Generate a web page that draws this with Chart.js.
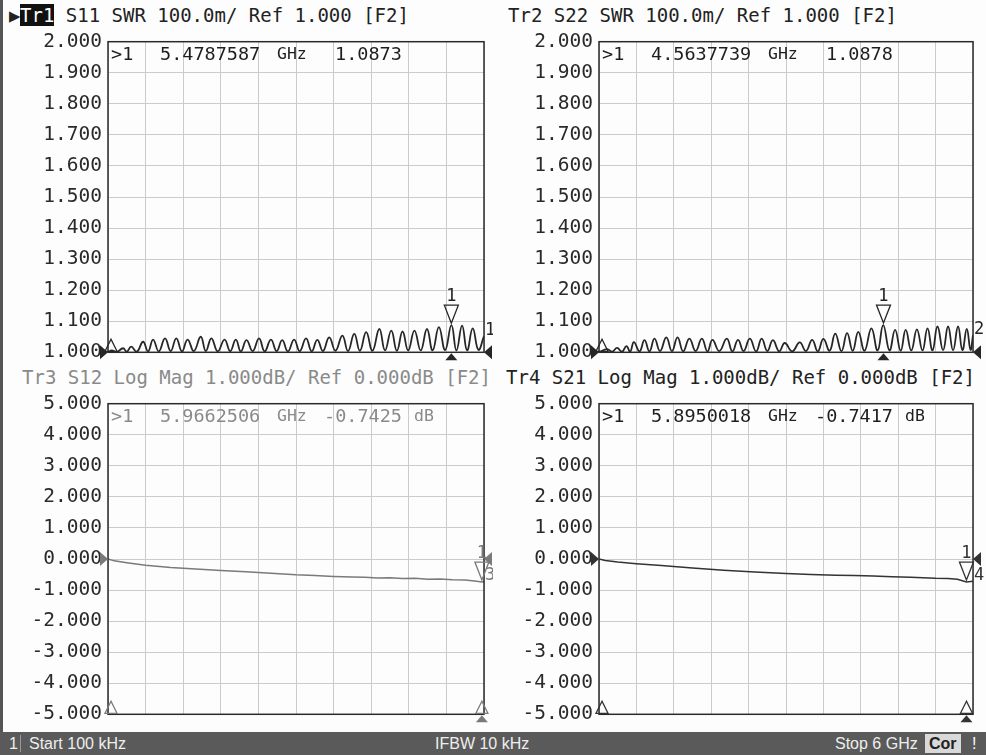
<!DOCTYPE html>
<html>
<head>
<meta charset="utf-8">
<script src="https://cdn.jsdelivr.net/npm/chart.js@4.4.0/dist/chart.umd.min.js"></script>
<style>
body { margin: 0; width: 986px; height: 755px; overflow: hidden; position: relative; background: #fdfdfd; font-family: 'DejaVu Sans Mono', monospace; }
.edge { position: absolute; left: 0; top: 0; width: 3px; height: 755px; background: #555; }
.title { position: absolute; font-size: 19px; line-height: 22px; white-space: pre; color: #222; }
.inv { background: #111; color: #fff; }
canvas { position: absolute; }
#status { position: absolute; left: 0; top: 732px; width: 986px; height: 23px; background: #5a5a5a; color: #eee; font-family: 'Liberation Sans', sans-serif; font-size: 16px; line-height: 23px; }
#status span { position: absolute; top: 0; }
</style>
</head>
<body>
<div class="edge"></div>
<div class="title" style="left:9px;top:4px;">&#9654;</div>
<div class="title" style="left:20px;top:4px;"><span class="inv">Tr1</span> S11 SWR 100.0m/ Ref 1.000 [F2]</div>
<div class="title" style="left:508px;top:4px;">Tr2 S22 SWR 100.0m/ Ref 1.000 [F2]</div>
<div class="title" style="left:22px;top:366px;color:#8a8a8a;">Tr3 S12 Log Mag 1.000dB/ Ref 0.000dB [F2]</div>
<div class="title" style="left:506px;top:366px;">Tr4 S21 Log Mag 1.000dB/ Ref 0.000dB [F2]</div>

<canvas id="tr1" width="493" height="346" style="left:0;top:24px;"></canvas>
<canvas id="tr2" width="493" height="346" style="left:493px;top:24px;"></canvas>
<canvas id="tr3" width="493" height="346" style="left:0;top:386px;"></canvas>
<canvas id="tr4" width="493" height="346" style="left:493px;top:386px;"></canvas>

<div id="status">
  <span style="left:9px;">1</span>
  <span style="left:20px;top:3px;width:1px;height:17px;background:#999;"></span>
  <span style="left:29px;">Start 100 kHz</span>
  <span style="left:435px;">IFBW 10 kHz</span>
  <span style="left:835px;">Stop 6 GHz</span>
  <span style="left:925px;top:2px;height:19px;line-height:19px;padding:0 4px;background:#d9d9d9;color:#222;font-weight:bold;">Cor</span>
  <span style="left:972px;color:#fff;">!</span>
</div>

<script>
// sweep, GHz
const freqMin = 0;
const freqMax = 6;

// S11 SWR, peaks and dips
const s11Freq = [0.0001, 0.06, 0.14, 0.24, 0.30, 0.37, 0.46, 0.56, 0.64, 0.72, 0.81, 0.91, 1.00, 1.09, 1.18, 1.27, 1.37, 1.48, 1.56, 1.65, 1.75, 1.86, 1.95, 2.04, 2.12, 2.21, 2.31, 2.41, 2.50, 2.60, 2.69, 2.78, 2.87, 2.97, 3.06, 3.16, 3.25, 3.34, 3.43, 3.53, 3.63, 3.74, 3.83, 3.93, 4.02, 4.12, 4.22, 4.33, 4.42, 4.52, 4.61, 4.70, 4.79, 4.89, 4.99, 5.09, 5.18, 5.28, 5.38, 5.48, 5.56, 5.65, 5.73, 5.82, 5.91, 6.0];
const s11Swr = [1.000, 1.006, 1.001, 1.013, 1.002, 1.018, 1.002, 1.034, 1.003, 1.041, 1.003, 1.045, 1.004, 1.045, 1.003, 1.041, 1.004, 1.050, 1.004, 1.045, 1.003, 1.041, 1.004, 1.041, 1.003, 1.039, 1.004, 1.045, 1.003, 1.041, 1.004, 1.039, 1.003, 1.041, 1.004, 1.045, 1.003, 1.040, 1.004, 1.048, 1.005, 1.054, 1.004, 1.059, 1.005, 1.065, 1.005, 1.075, 1.006, 1.070, 1.005, 1.067, 1.006, 1.070, 1.006, 1.075, 1.006, 1.081, 1.007, 1.0873, 1.006, 1.086, 1.006, 1.077, 1.008, 1.052];

// S22 SWR
const s22Freq = [0.0001, 0.13, 0.21, 0.29, 0.37, 0.44, 0.50, 0.56, 0.65, 0.73, 0.81, 0.89, 0.98, 1.08, 1.17, 1.26, 1.35, 1.45, 1.55, 1.65, 1.74, 1.82, 1.93, 2.05, 2.14, 2.23, 2.32, 2.42, 2.52, 2.61, 2.70, 2.79, 2.89, 2.98, 3.10, 3.22, 3.32, 3.42, 3.51, 3.60, 3.70, 3.79, 3.89, 3.98, 4.07, 4.16, 4.26, 4.37, 4.47, 4.56, 4.66, 4.75, 4.84, 4.92, 5.01, 5.10, 5.19, 5.27, 5.35, 5.43, 5.52, 5.60, 5.68, 5.76, 5.83, 5.90, 5.96, 6.0];
const s22Swr = [1.000, 1.010, 1.002, 1.014, 1.002, 1.020, 1.002, 1.033, 1.003, 1.039, 1.003, 1.044, 1.004, 1.048, 1.004, 1.048, 1.003, 1.044, 1.004, 1.044, 1.003, 1.040, 1.004, 1.044, 1.003, 1.040, 1.004, 1.044, 1.003, 1.044, 1.004, 1.039, 1.003, 1.030, 1.003, 1.032, 1.004, 1.040, 1.003, 1.043, 1.005, 1.060, 1.004, 1.062, 1.005, 1.066, 1.005, 1.077, 1.006, 1.0878, 1.006, 1.072, 1.005, 1.072, 1.006, 1.074, 1.006, 1.077, 1.006, 1.083, 1.007, 1.083, 1.006, 1.083, 1.007, 1.075, 1.008, 1.055];

// S12 / S21 log mag, dB
const s12Freq = [0.0001, 0.1, 0.3, 0.6, 1.0, 1.4, 1.8, 2.2, 2.6, 3.0, 3.3, 3.6, 3.9, 4.1, 4.3, 4.5, 4.7, 4.9, 5.1, 5.3, 5.5, 5.7, 5.85, 5.97, 6.0];
const s12Db = [0.0, -0.06, -0.12, -0.20, -0.27, -0.32, -0.37, -0.41, -0.46, -0.51, -0.53, -0.56, -0.58, -0.59, -0.61, -0.60, -0.63, -0.62, -0.65, -0.64, -0.67, -0.68, -0.71, -0.7425, -0.72];
const s21Freq = [0.0001, 0.1, 0.3, 0.6, 1.0, 1.5, 2.0, 2.5, 3.0, 3.4, 3.8, 4.1, 4.4, 4.7, 5.0, 5.2, 5.4, 5.6, 5.75, 5.895, 6.0];
const s21Db = [0.0, -0.05, -0.10, -0.15, -0.21, -0.29, -0.36, -0.42, -0.47, -0.50, -0.52, -0.53, -0.55, -0.57, -0.59, -0.60, -0.62, -0.63, -0.65, -0.7417, -0.72];

// marker 1 on each trace
const markerFreq = [5.4787587, 4.5637739, 5.9662506, 5.8950018];
const markerVal = [1.0873, 1.0878, -0.7425, -0.7417];
const markerFreqText = ['5.4787587', '4.5637739', '5.9662506', '5.8950018'];
const markerValText = ['1.0873', '1.0878', '-0.7425', '-0.7417'];

const tri = (ctx, pts, fill) => {
    ctx.beginPath();
    ctx.moveTo(pts[0], pts[1]);
    ctx.lineTo(pts[2], pts[3]);
    ctx.lineTo(pts[4], pts[5]);
    ctx.closePath();
    if (fill) ctx.fill(); else ctx.stroke();
};

const vnaDecor = {
    id: 'vnaDecor',
    afterDraw(chart, args, o) {
        const { ctx, chartArea: a, scales: { x, y } } = chart;
        const m = o.mk;
        ctx.save();
        ctx.strokeStyle = '#2a2a2a';
        ctx.lineWidth = 1.5;
        ctx.strokeRect(a.left, a.top, a.width, a.height);

        // marker readout
        ctx.fillStyle = o.text;
        ctx.textBaseline = 'middle';
        ctx.textAlign = 'left';
        ctx.font = '18.5px "DejaVu Sans Mono"';
        const ry = a.top + 13;
        ctx.fillText('>1', a.left + 3, ry);
        ctx.fillText(markerFreqText[m], a.left + 52, ry);
        ctx.font = '16.5px "DejaVu Sans Mono"';
        ctx.fillText('GHz', a.left + 169, ry);
        ctx.font = '18.5px "DejaVu Sans Mono"';
        const vt = markerValText[m];
        ctx.fillText(vt, a.left + (vt[0] === '-' ? 216 : 227), ry);
        if (o.unit) {
            ctx.font = '16.5px "DejaVu Sans Mono"';
            ctx.fillText(o.unit, a.left + 306, ry);
        }

        ctx.fillStyle = o.line;
        ctx.strokeStyle = o.line;
        ctx.lineWidth = 1.3;
        const refY = y.getPixelForValue(o.ref);
        // reference level arrows
        tri(ctx, [a.left - 8, refY - 7, a.left, refY, a.left - 8, refY + 7], true);
        tri(ctx, [a.right + 8, refY - 7, a.right, refY, a.right + 8, refY + 7], true);
        // start stimulus
        tri(ctx, [a.left + 3, a.bottom - 13, a.left - 3, a.bottom - 1, a.left + 9, a.bottom - 1], false);

        // marker 1
        const mx = x.getPixelForValue(markerFreq[m]);
        const my = y.getPixelForValue(markerVal[m]);
        tri(ctx, [mx - 7, my - 20, mx + 7, my - 20, mx, my - 2], false);
        ctx.font = '17px "DejaVu Sans Mono"';
        ctx.textAlign = 'center';
        ctx.textBaseline = 'bottom';
        ctx.fillText('1', mx, my - 20);
        tri(ctx, [mx - 6, a.bottom + 8, mx + 6, a.bottom + 8, mx, a.bottom + 1], true);
        if (o.low) {
            tri(ctx, [mx, a.bottom - 13, mx - 6, a.bottom - 1, mx + 6, a.bottom - 1], false);
        }

        // trace number at the end of the sweep
        const ds = chart.data.datasets[0].data;
        const ey = y.getPixelForValue(ds[ds.length - 1].y);
        ctx.textAlign = 'left';
        ctx.fillText(String(m + 1), a.right + 1, ey + 3);
        ctx.restore();
    }
};

function makePanel(id, freq, vals, cfg) {
    const points = freq.map((f, i) => ({ x: f, y: vals[i] }));
    const grid = { color: '#cbcbcb', lineWidth: 1, drawTicks: false };
    return new Chart(document.getElementById(id), {
        type: 'line',
        data: {
            datasets: [{
                data: points,
                borderColor: cfg.line,
                borderWidth: cfg.width,
                pointRadius: 0,
                fill: false,
                tension: cfg.tension,
            }],
        },
        options: {
            responsive: false,
            animation: false,
            events: [],
            layout: { padding: { top: 11, right: cfg.padRight, bottom: cfg.padBottom, left: 0 } },
            plugins: {
                legend: { display: false },
                tooltip: { enabled: false },
                vnaDecor: { mk: cfg.mk, text: cfg.text, line: cfg.line, ref: cfg.ref, unit: cfg.unit, low: cfg.low },
            },
            scales: {
                x: {
                    type: 'linear',
                    min: freqMin,
                    max: freqMax,
                    ticks: { display: false, stepSize: 0.6 },
                    grid: grid,
                    border: { display: false },
                    afterFit: (s) => { s.height = 0; },
                },
                y: {
                    min: cfg.yMin,
                    max: cfg.yMax,
                    ticks: {
                        stepSize: cfg.yStep,
                        padding: 6,
                        color: cfg.tick,
                        font: { family: 'DejaVu Sans Mono', size: 19.5 },
                        callback: (v) => v.toFixed(3),
                    },
                    grid: grid,
                    border: { display: false },
                    afterFit: (s) => { s.width = cfg.yWidth; },
                },
            },
        },
        plugins: [vnaDecor],
    });
}

makePanel('tr1', s11Freq, s11Swr, { mk: 0, yMin: 1, yMax: 2, yStep: 0.1, yWidth: 108, padRight: 9, padBottom: 15, line: '#262626', text: '#1e1e1e', tick: '#2a2a2a', ref: 1, width: 1.8, tension: 0.45 });
makePanel('tr2', s22Freq, s22Swr, { mk: 1, yMin: 1, yMax: 2, yStep: 0.1, yWidth: 106, padRight: 13, padBottom: 15, line: '#262626', text: '#1e1e1e', tick: '#2a2a2a', ref: 1, width: 1.8, tension: 0.45 });
makePanel('tr3', s12Freq, s12Db, { mk: 2, yMin: -5, yMax: 5, yStep: 1, yWidth: 108, padRight: 9, padBottom: 14, line: '#7a7a7a', text: '#8a8a8a', tick: '#2a2a2a', ref: 0, unit: 'dB', low: true, width: 1.5, tension: 0 });
makePanel('tr4', s21Freq, s21Db, { mk: 3, yMin: -5, yMax: 5, yStep: 1, yWidth: 106, padRight: 13, padBottom: 14, line: '#333333', text: '#1e1e1e', tick: '#2a2a2a', ref: 0, unit: 'dB', low: true, width: 1.5, tension: 0 });
</script>
</body>
</html>
